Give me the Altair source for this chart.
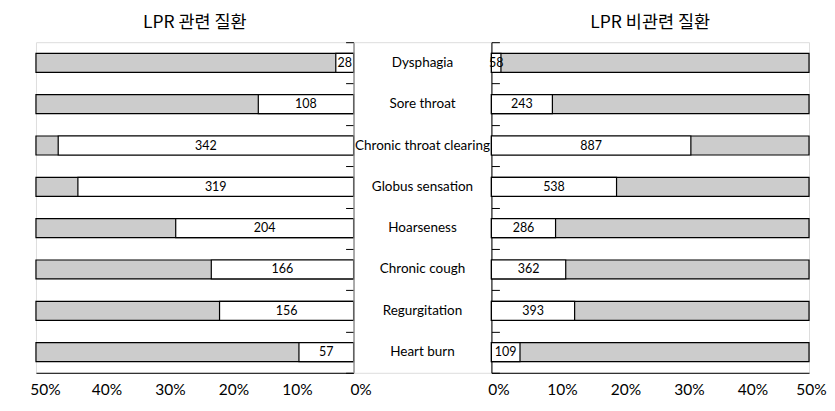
import altair as alt
import pandas as pd

categories = ["Dysphagia", "Sore throat", "Chronic throat clearing", "Globus sensation",
              "Hoarseness", "Chronic cough", "Regurgitation", "Heart burn"]
lpr_counts = [28, 108, 342, 319, 204, 166, 156, 57]
lpr_pct = [2.8, 15.0, 46.5, 43.4, 28.0, 22.4, 21.1, 8.6]
non_counts = [58, 243, 887, 538, 286, 362, 393, 109]
non_pct = [1.5, 9.6, 31.4, 19.7, 10.1, 11.7, 13.1, 4.5]
full_scale = 50
tick_values = [0, 10, 20, 30, 40, 50]

W = 318
H = 331
MID = 138
GRAY = "#cccccc"
NUM_FONT = "Lato"
LABEL_FONT = "Lato"


def panel(counts, pcts, title, reverse):
    df = pd.DataFrame({"cat": categories, "count": counts, "pct": pcts,
                       "full": [full_scale] * len(categories)})
    base = alt.Chart(df).transform_calculate(mid="datum.pct / 2")
    xscale = alt.Scale(domain=[0, full_scale], reverse=reverse, nice=False)
    end_off = 9 if reverse else 2
    xaxis = alt.Axis(values=tick_values, labelExpr="datum.value + '%'", ticks=False,
                     grid=False, domainColor="black", labelFontSize=15.5, labelFont=NUM_FONT,
                     labelColor="black", labelPadding=10,
                     labelOffset={"condition": {"test": "datum.value == 50", "value": end_off},
                                  "value": 7},
                     labelFlush=False, title=None)
    yaxis = alt.Axis(orient="right" if not reverse else "left", offset=-W, labels=False,
                     title=None, tickBand="extent", tickSize=8, tickColor="black",
                     domainColor="black", grid=False)
    yenc = alt.Y("cat:N", sort=categories,
                 scale=alt.Scale(paddingInner=0, paddingOuter=0), axis=yaxis)
    bg = base.mark_bar(size=19, fill=GRAY, stroke="black", strokeWidth=1.2).encode(
        x=alt.X("full:Q", scale=xscale, axis=xaxis), y=yenc)
    fg = base.mark_bar(size=19, fill="white", stroke="black", strokeWidth=1.2).encode(
        x="pct:Q", y=alt.Y("cat:N", sort=categories))
    txt = base.mark_text(font=NUM_FONT, fontSize=12.5, color="black").encode(
        x="mid:Q", y=alt.Y("cat:N", sort=categories), text="count:Q")
    return alt.layer(bg, fg, txt).properties(
        width=W, height=H,
        title=alt.Title(title, font="Noto Sans CJK KR", fontSize=17.5, fontWeight="normal",
                        color="black", anchor="middle", frame="group", offset=10))


left = panel(lpr_counts, lpr_pct, "LPR 관련 질환", True)
right = panel(non_counts, non_pct, "LPR 비관련 질환", False)

mid_df = pd.DataFrame({"cat": categories})
middle = alt.Chart(mid_df).mark_text(font=LABEL_FONT, fontSize=13.5, color="black").encode(
    y=alt.Y("cat:N", sort=categories, scale=alt.Scale(paddingInner=0, paddingOuter=0),
            axis=None),
    text="cat:N",
).properties(width=MID, height=H, title=alt.Title(" ", fontSize=17.5, offset=10))

chart = alt.hconcat(left, middle, right, spacing=0, bounds="flush").properties(
    padding={"left": 21, "right": 0, "top": 5, "bottom": 2}
).configure_view(strokeWidth=0).configure(background="white")

chart.save("out.html", embed_options={"renderer": "svg", "actions": False})
